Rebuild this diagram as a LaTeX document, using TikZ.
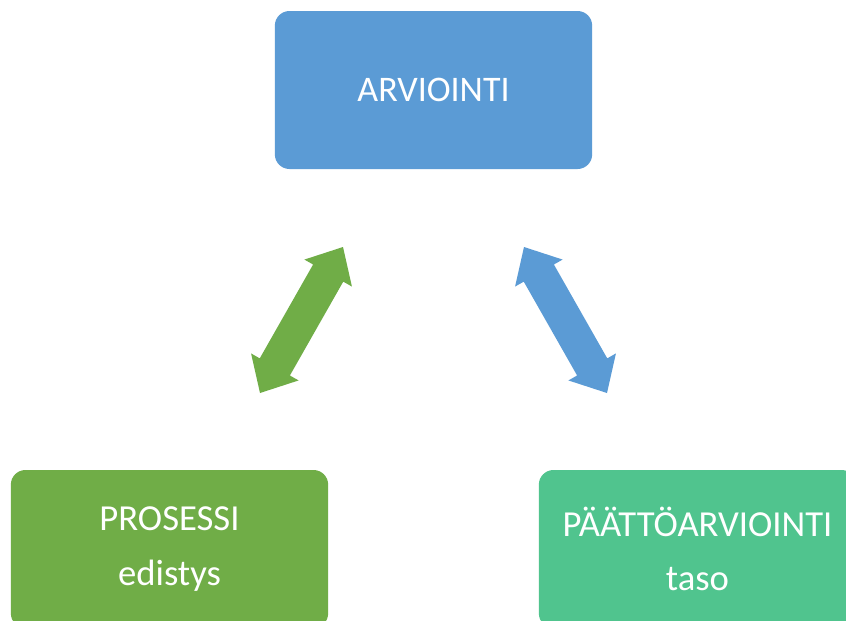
\documentclass[tikz,border=0pt]{standalone}
\usepackage{fontspec}
\setmainfont{Carlito}
\usetikzlibrary{calc}
\definecolor{blueA}{HTML}{5B9BD5}
\definecolor{greenA}{HTML}{70AD47}
\definecolor{tealA}{HTML}{50C48E}
\newcommand\mydblarrow[3]{%
  \fill[#3]
    ($(#1)!22.5pt!(#2)$) coordinate (hA)
    ($(#2)!22.5pt!(#1)$) coordinate (hB)
    (#1) -- ($(hA)!20.5pt!90:(#2)$) -- ($(hA)!13pt!90:(#2)$)
    -- ($(hB)!13pt!-90:(#1)$) -- ($(hB)!20.5pt!-90:(#1)$)
    -- (#2) -- ($(hB)!20.5pt!90:(#1)$) -- ($(hB)!13pt!90:(#1)$)
    -- ($(hA)!13pt!-90:(#2)$) -- ($(hA)!20.5pt!-90:(#2)$) -- cycle;}
\tikzset{
  box/.style={rectangle, rounded corners=11pt, text=white, align=center,
    minimum width=238pt, minimum height=118.5pt, inner sep=0pt},
  topfont/.style={font=\fontsize{27}{32}\selectfont},
  botfont/.style={font=\fontsize{27.5}{41}\selectfont}
}
\begin{document}
\begin{tikzpicture}[x=0.75pt,y=-0.75pt]
\path[use as bounding box, clip] (0,0) rectangle (846,621);
\fill[white] (0,0) rectangle (846,621);
\node[box, topfont, fill=blueA] (arv) at (433.5,90) {ARVIOINTI};
\node[box, botfont, fill=greenA] (pro) at (169.5,549) {PROSESSI\\edistys};
\node[box, botfont, fill=tealA] (paa) at (697.5,549) {PÄÄTTÖARVIOINTI\\taso};
\coordinate (g1) at (343,247);
\coordinate (g2) at (260,393);
\coordinate (b1) at (524,247);
\coordinate (b2) at (607,393);
\mydblarrow{g1}{g2}{greenA}
\mydblarrow{b1}{b2}{blueA}
\end{tikzpicture}
\end{document}
